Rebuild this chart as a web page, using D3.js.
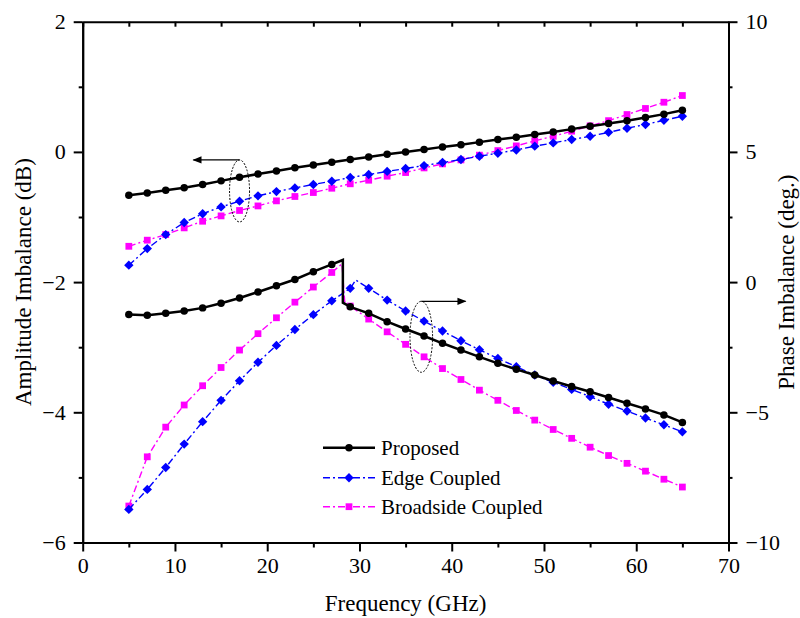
<!DOCTYPE html>
<html>
<head>
<meta charset="utf-8">
<script src="https://cdn.jsdelivr.net/npm/d3@7"></script>
<style>
  body { margin: 0; background: #fff; }
  text { font-family: "Liberation Serif", "Times New Roman", serif; fill: #000; }
</style>
</head>
<body>
<div id="chart"></div>
<script>
// Amplitude / phase imbalance vs frequency, two y axes.

const width = 800;
const height = 618;

// frequency points (GHz)
const freq = [5, 7, 9, 11, 13, 15, 17, 19, 21, 23, 25, 27, 29, 31, 33, 35, 37, 39, 41, 43, 45, 47, 49, 51, 53, 55, 57, 59, 61, 63, 65];

// amplitude imbalance (dB), left axis
const proposedAmp = [-0.665, -0.63, -0.59, -0.55, -0.50, -0.445, -0.39, -0.34, -0.295, -0.245, -0.20, -0.16, -0.117, -0.077, -0.035, 0.0, 0.036, 0.077, 0.11, 0.15, 0.19, 0.226, 0.267, 0.307, 0.35, 0.395, 0.436, 0.48, 0.53, 0.58, 0.64];
const edgeAmp = [-1.74, -1.485, -1.27, -1.085, -0.95, -0.845, -0.757, -0.675, -0.61, -0.553, -0.5, -0.45, -0.394, -0.347, -0.30, -0.255, -0.21, -0.163, -0.117, -0.066, -0.02, 0.03, 0.088, 0.138, 0.19, 0.24, 0.30, 0.364, 0.42, 0.487, 0.548];
const broadAmp = [-1.45, -1.356, -1.27, -1.167, -1.065, -0.983, -0.90, -0.83, -0.752, -0.685, -0.624, -0.558, -0.49, -0.435, -0.373, -0.317, -0.246, -0.184, -0.123, -0.05, 0.02, 0.092, 0.17, 0.24, 0.318, 0.40, 0.48, 0.574, 0.667, 0.763, 0.866];

// phase imbalance (deg.), right axis
const proposedPhase = [-1.24, -1.27, -1.20, -1.11, -0.99, -0.81, -0.61, -0.38, -0.14, 0.10, 0.40, 0.68, -0.95, -1.20, -1.52, -1.80, -2.07, -2.35, -2.61, -2.87, -3.12, -3.35, -3.57, -3.80, -4.01, -4.21, -4.43, -4.65, -4.87, -5.10, -5.39];
const edgePhase = [-8.73, -7.96, -7.12, -6.22, -5.36, -4.54, -3.79, -3.08, -2.43, -1.82, -1.25, -0.72, -0.24, -0.24, -0.69, -1.11, -1.50, -1.88, -2.25, -2.60, -2.93, -3.25, -3.57, -3.85, -4.12, -4.40, -4.69, -4.95, -5.22, -5.48, -5.75];
const broadPhase = [-8.60, -6.71, -5.57, -4.72, -3.98, -3.28, -2.61, -1.98, -1.37, -0.77, -0.19, 0.37, -0.92, -1.42, -1.91, -2.39, -2.87, -3.32, -3.74, -4.15, -4.54, -4.93, -5.30, -5.66, -6.00, -6.34, -6.66, -6.96, -7.26, -7.57, -7.87];

// unmarked break points in the phase traces (between 27 and 29 GHz)
const proposedPhaseBreak = [[28.2, 0.85], [28.2, -0.79]];
const edgePhaseBreak = [[29.6, 0.08]];
const broadPhaseBreak = [[28.1, 0.70], [28.4, -0.75]];

// ticks
const xMajor = [0, 10, 20, 30, 40, 50, 60, 70];
const xMinor = [5, 15, 25, 35, 45, 55, 65];
const yLeftMajor = [-6, -4, -2, 0, 2];
const yLeftMinor = [-5, -3, -1, 1];
const yRightMajor = [-10, -5, 0, 5, 10];
const yRightMinor = [-7.5, -2.5, 2.5, 7.5];

const legendNames = ["Proposed", "Edge Coupled", "Broadside Coupled"];

const plot = { left: 82.7, right: 728.5, top: 21.7, bottom: 542.5 };

const x = d3.scaleLinear().domain([0, 70]).range([plot.left, plot.right]);
const yL = d3.scaleLinear().domain([-6, 2]).range([plot.bottom, plot.top]);
const yR = d3.scaleLinear().domain([-10, 10]).range([plot.bottom, plot.top]);

const svg = d3.select("#chart").append("svg")
    .attr("width", width)
    .attr("height", height);

const fmt = d => (d < 0 ? "\u2212" + Math.abs(d) : "" + d);

function styleAxis(g) {
  g.select(".domain").attr("stroke", "#000").attr("stroke-width", 2);
  g.selectAll(".tick line").attr("stroke", "#000").attr("stroke-width", 2);
  g.selectAll(".tick text").attr("font-size", 22)
      .attr("font-family", "Liberation Serif, serif");
}

// bottom axis
svg.append("g").attr("transform", `translate(0,${plot.bottom})`)
    .call(d3.axisBottom(x).tickValues(xMinor).tickSize(5).tickSizeOuter(0).tickFormat(""))
    .call(styleAxis);
svg.append("g").attr("transform", `translate(0,${plot.bottom})`)
    .call(d3.axisBottom(x).tickValues(xMajor).tickSize(9).tickSizeOuter(0).tickPadding(6).tickFormat(fmt))
    .call(styleAxis);

// top axis, ticks pointing in
svg.append("g").attr("transform", `translate(0,${plot.top})`)
    .call(d3.axisBottom(x).tickValues(xMajor.concat(xMinor)).tickSize(5).tickSizeOuter(0).tickFormat(""))
    .call(styleAxis);

// left axis
svg.append("g").attr("transform", `translate(${plot.left},0)`)
    .call(d3.axisLeft(yL).tickValues(yLeftMinor).tickSize(4).tickSizeOuter(0).tickFormat(""))
    .call(styleAxis);
svg.append("g").attr("transform", `translate(${plot.left},0)`)
    .call(d3.axisLeft(yL).tickValues(yLeftMajor).tickSize(9).tickSizeOuter(0).tickPadding(8).tickFormat(fmt))
    .call(styleAxis);

// right axis
svg.append("g").attr("transform", `translate(${plot.right},0)`)
    .call(d3.axisRight(yR).tickValues(yRightMinor).tickSize(4).tickSizeOuter(0).tickFormat(""))
    .call(styleAxis);
svg.append("g").attr("transform", `translate(${plot.right},0)`)
    .call(d3.axisRight(yR).tickValues(yRightMajor).tickSize(9).tickSizeOuter(0).tickPadding(8).tickFormat(fmt))
    .call(styleAxis);

// axis titles
svg.append("text")
    .attr("x", (plot.left + plot.right) / 2).attr("y", 611)
    .attr("text-anchor", "middle").attr("font-size", 23)
    .text("Frequency (GHz)");
svg.append("text")
    .attr("transform", `translate(31,${(plot.top + plot.bottom) / 2}) rotate(-90)`)
    .attr("text-anchor", "middle").attr("font-size", 23)
    .text("Amplitude Imbalance (dB)");
svg.append("text")
    .attr("transform", `translate(794,${(plot.top + plot.bottom) / 2}) rotate(-90)`)
    .attr("text-anchor", "middle").attr("font-size", 23)
    .text("Phase Imbalance (deg.)");

// series styles (diamond = square turned 45 degrees)
const styles = [
  { color: "#000000", width: 2.5, dash: null, shape: d3.symbolCircle, size: 44, rot: 0 },
  { color: "#0000ff", width: 1.4, dash: "7,3,2,3", shape: d3.symbolSquare, size: 44, rot: 45 },
  { color: "#ff00ff", width: 1.4, dash: "7,3,2,3", shape: d3.symbolSquare, size: 46, rot: 0 }
];

const series = [
  { pts: freq.map((f, i) => [f, proposedAmp[i]]), y: yL, s: styles[0] },
  { pts: freq.map((f, i) => [f, edgeAmp[i]]), y: yL, s: styles[1] },
  { pts: freq.map((f, i) => [f, broadAmp[i]]), y: yL, s: styles[2] },
  { pts: freq.map((f, i) => [f, proposedPhase[i]]), brk: proposedPhaseBreak, y: yR, s: styles[0] },
  { pts: freq.map((f, i) => [f, edgePhase[i]]), brk: edgePhaseBreak, y: yR, s: styles[1] },
  { pts: freq.map((f, i) => [f, broadPhase[i]]), brk: broadPhaseBreak, y: yR, s: styles[2] }
];

// draw order: broadside, edge, proposed on top
[2, 5, 1, 4, 0, 3].forEach(k => {
  const sr = series[k];
  let linePts = sr.pts.slice();
  if (sr.brk) {
    linePts = linePts.concat(sr.brk).sort((a, b) => a[0] - b[0]);
  }
  const line = d3.line().x(d => x(d[0])).y(d => sr.y(d[1]));
  svg.append("path")
      .attr("d", line(linePts))
      .attr("fill", "none")
      .attr("stroke", sr.s.color)
      .attr("stroke-width", sr.s.width)
      .attr("stroke-dasharray", sr.s.dash);
  svg.append("g").selectAll("path")
    .data(sr.pts)
    .join("path")
      .attr("transform", d => `translate(${x(d[0])},${sr.y(d[1])}) rotate(${sr.s.rot})`)
      .attr("d", d3.symbol(sr.s.shape, sr.s.size))
      .attr("fill", sr.s.color);
});

// annotation: dotted ellipses with arrows
const marker = svg.append("defs").append("marker")
    .attr("id", "arrow").attr("viewBox", "0 0 10 10")
    .attr("refX", 9).attr("refY", 5)
    .attr("markerWidth", 13).attr("markerHeight", 9)
    .attr("markerUnits", "userSpaceOnUse")
    .attr("orient", "auto");
marker.append("path").attr("d", "M0,1 L10,5 L0,9 z").attr("fill", "#000");

const notes = [
  { cx: 17, cy: -0.6, rx: 10, ry: 31, y: yL, toX: 12 },
  { cx: 36.7, cy: -2.1, rx: 11.3, ry: 35.5, y: yR, toX: 41.5 }
];
notes.forEach(n => {
  const cx = x(n.cx), cy = n.y(n.cy);
  svg.append("ellipse")
      .attr("cx", cx).attr("cy", cy).attr("rx", n.rx).attr("ry", n.ry)
      .attr("fill", "none").attr("stroke", "#000")
      .attr("stroke-width", 1).attr("stroke-dasharray", "2,1.5");
  svg.append("line")
      .attr("x1", cx).attr("y1", cy - n.ry)
      .attr("x2", x(n.toX)).attr("y2", cy - n.ry)
      .attr("stroke", "#000").attr("stroke-width", 1.2)
      .attr("marker-end", "url(#arrow)");
});

// legend
const legend = svg.append("g");
const legendY = [447.7, 477.7, 506.7];
legendNames.forEach((name, i) => {
  const s = styles[i];
  legend.append("line")
      .attr("x1", 323).attr("x2", 375)
      .attr("y1", legendY[i]).attr("y2", legendY[i])
      .attr("stroke", s.color).attr("stroke-width", s.width)
      .attr("stroke-dasharray", s.dash);
  legend.append("path")
      .attr("transform", `translate(349,${legendY[i]}) rotate(${s.rot})`)
      .attr("d", d3.symbol(s.shape, s.size))
      .attr("fill", s.color);
  legend.append("text")
      .attr("x", 381).attr("y", legendY[i] + 7)
      .attr("font-size", 21)
      .text(name);
});
</script>
</body>
</html>
